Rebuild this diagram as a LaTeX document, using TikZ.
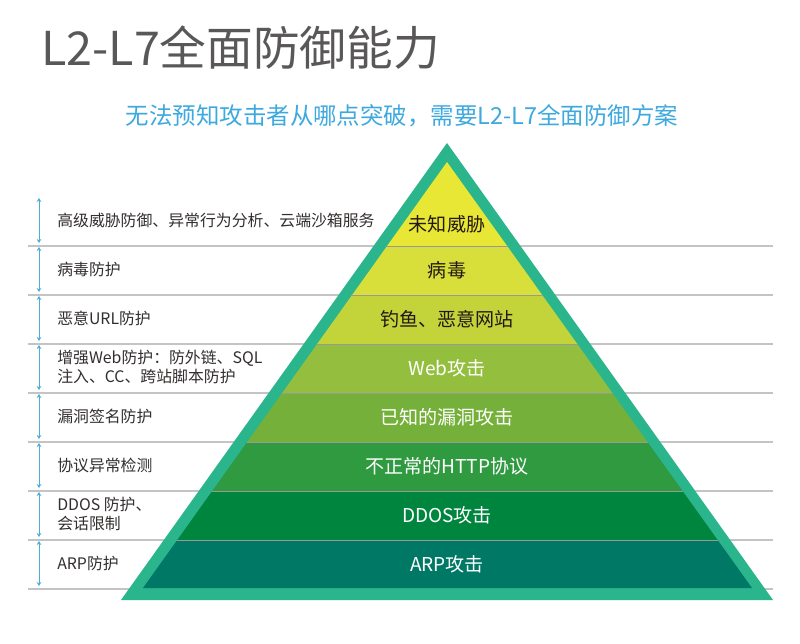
\documentclass[tikz,border=0pt]{standalone}
\usepackage{fontspec}
\setmainfont{Noto Sans CJK SC}
\usepackage{xcolor}
\usepackage{tikz}
\usetikzlibrary{arrows.meta}
\definecolor{PYRgray}{HTML}{595757}
\definecolor{PYRsky}{HTML}{3DA9DF}
\definecolor{PYRtext}{HTML}{332F2E}
\definecolor{PYRdark}{HTML}{231815}
\definecolor{PYRblue}{HTML}{4BAED3}
\definecolor{PYRrule}{HTML}{C4C4C4}
\definecolor{PYRteal}{HTML}{2AB58D}
\definecolor{PYRy1}{HTML}{E9E735}
\definecolor{PYRy2}{HTML}{D8DF3A}
\definecolor{PYRy3}{HTML}{C3D43B}
\definecolor{PYRg1}{HTML}{94BF3E}
\definecolor{PYRg2}{HTML}{75B13A}
\definecolor{PYRg3}{HTML}{2F9A40}
\definecolor{PYRg4}{HTML}{00853F}
\definecolor{PYRg5}{HTML}{007866}
\tikzset{
  bandtext/.style={inner sep=0pt, font=\fontsize{14.3}{16}\selectfont},
  sidetext/.style={anchor=west, align=left, inner sep=0pt, text=PYRtext, font=\fontsize{11.9}{14.3}\selectfont},
  dimarr/.style={{Stealth[length=3pt,width=3.5pt]}-{Stealth[length=3pt,width=3.5pt]}, draw=PYRblue, line width=0.6pt},
  ruleline/.style={draw=PYRrule, line width=1.4pt},
  bandsep/.style={draw=black!40, line width=0.6pt}
}

\begin{document}
\begin{tikzpicture}[x=0.75pt,y=-0.75pt]
\path[use as bounding box, fill=white] (0,0) rectangle (800,643);
\node[anchor=west, inner sep=0pt, text=PYRgray, font=\fontsize{35}{40}\selectfont] (title) at (41,48) {L2-L7全面防御能力};
\node[inner sep=0pt, text=PYRsky, font=\fontsize{17.6}{20}\selectfont] (sub) at (402,116) {无法预知攻击者从哪点突破，需要L2-L7全面防御方案};
% grey rules behind the pyramid
\foreach \y in {246,295,...,589} \draw[ruleline] (28,\y) -- (773,\y);
% pyramid
\fill[PYRteal] (121,600) -- (447,143) -- (773,600) -- cycle;
\begin{scope}
  \clip (143,588) -- (447,162) -- (752,588) -- cycle;
  \fill[PYRy1] (100,150) rectangle (800,246);
  \foreach \c [count=\i from 1] in {PYRy2,PYRy3,PYRg1,PYRg2,PYRg3,PYRg4,PYRg5}
    \fill[\c] (100,{197+49*\i}) rectangle (800,{246+49*\i});
  \foreach \y in {246,295,...,540} \draw[bandsep] (100,\y) -- (800,\y);
\end{scope}
\node[bandtext, text=PYRdark] (b0) at (447,224) {未知威胁};
\node[bandtext, text=PYRdark] (b1) at (447,270) {病毒};
\node[bandtext, text=PYRdark] (b2) at (447,319) {钓鱼、恶意网站};
\node[bandtext, text=white] (b3) at (447,368) {Web攻击};
\node[bandtext, text=white] (b4) at (447,417) {已知的漏洞攻击};
\node[bandtext, text=white] (b5) at (447,466) {不正常的HTTP协议};
\node[bandtext, text=white] (b6) at (447,515) {DDOS攻击};
\node[bandtext, text=white] (b7) at (447,564) {ARP攻击};
% side labels with span arrows
\foreach \t [count=\i from 0] in {高级威胁防御、异常行为分析、云端沙箱服务, 病毒防护, 恶意URL防护,
    {增强Web防护：防外链、SQL\\注入、CC、跨站脚本防护}, 漏洞签名防护, 协议异常检测,
    {DDOS 防护、\\会话限制}, ARP防护} {
  \node[sidetext] (l\i) at (57,{220+49*\i}) {\t};
  \coordinate (u\i) at (39,{198+49*\i});
  \coordinate (d\i) at (39,{243+49*\i});
  \draw[dimarr] (u\i) -- (d\i);
}
\end{tikzpicture}
\end{document}
